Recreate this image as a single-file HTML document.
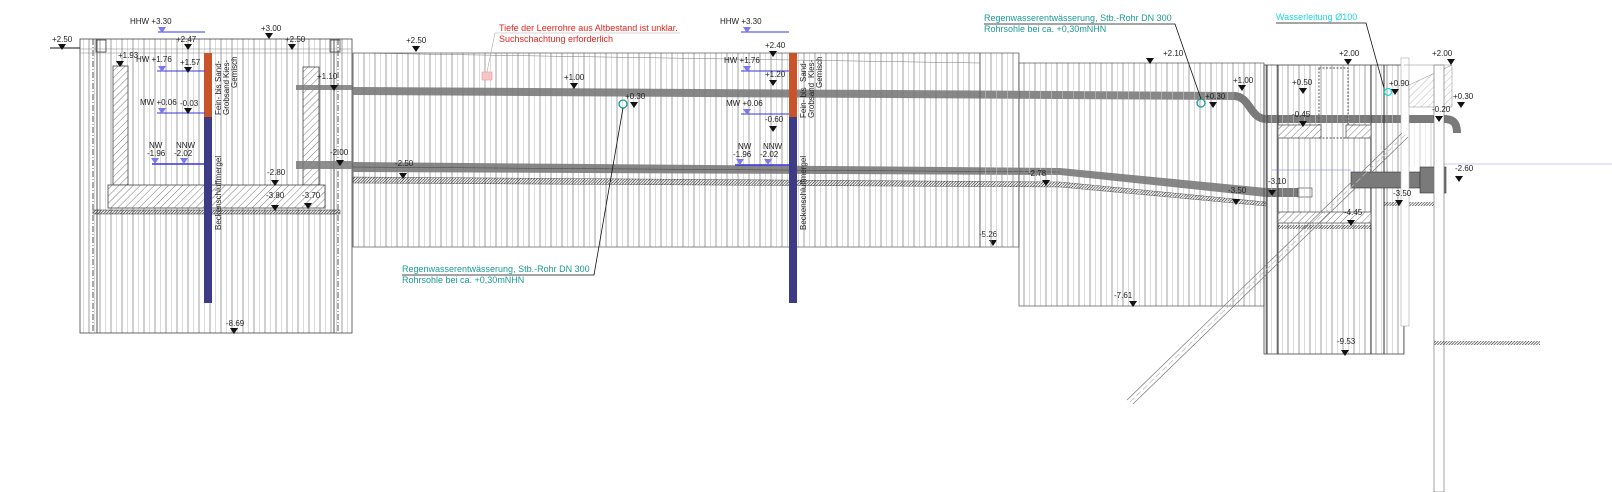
<!DOCTYPE html>
<html><head><meta charset="utf-8"><style>
html,body{margin:0;padding:0;background:#fff}
svg{display:block}
text{font-family:"Liberation Sans",sans-serif;font-size:8px;fill:#222}
.t{fill:#1a9a94;font-size:9px}
.r{fill:#e8231e;font-size:9px}
.c{fill:#22d6e0;font-size:9px}
</style></head><body>
<svg width="1612" height="492" viewBox="0 0 1612 492" xmlns="http://www.w3.org/2000/svg">
<defs>
<pattern id="v" width="11" height="20" patternUnits="userSpaceOnUse">
<line x1="1" y1="0" x2="1" y2="20" stroke="#8a8a8a" stroke-width="0.8"/>
<line x1="6.5" y1="0" x2="6.5" y2="20" stroke="#c4c4c4" stroke-width="0.6"/>
</pattern>
<pattern id="h" width="5" height="5" patternUnits="userSpaceOnUse" patternTransform="rotate(45)">
<line x1="0" y1="0" x2="0" y2="5" stroke="#555" stroke-width="0.8"/>
</pattern>
<pattern id="g" width="2" height="4" patternUnits="userSpaceOnUse" patternTransform="rotate(45)">
<line x1="0" y1="0" x2="0" y2="4" stroke="#222" stroke-width="1.2"/>
</pattern>
<path id="m" d="M-4,0 L4,0 L0,6 Z" fill="#111"/>
<path id="bm" d="M-4,0 L4,0 L0,6 Z" fill="#7a7aee"/>
</defs>

<!-- LEFT PANEL -->
<rect x="80" y="39" width="272" height="294" fill="url(#v)" stroke="#444" stroke-width="0.8"/>
<line x1="93" y1="39" x2="93" y2="333" stroke="#555" stroke-dasharray="6,2,1,2"/>
<line x1="97" y1="39" x2="97" y2="333" stroke="#555"/>
<line x1="338" y1="39" x2="338" y2="333" stroke="#555" stroke-dasharray="6,2,1,2"/>
<line x1="334" y1="39" x2="334" y2="333" stroke="#555"/>
<line x1="80" y1="49" x2="352" y2="49" stroke="#888" stroke-width="0.6"/>
<line x1="80" y1="53" x2="352" y2="53" stroke="#888" stroke-width="0.6"/>
<rect x="113" y="66" width="15" height="119" fill="#fff" stroke="#444" stroke-width="0.8"/>
<rect x="113" y="66" width="15" height="119" fill="url(#h)"/>
<rect x="303" y="67" width="16" height="118" fill="#fff" stroke="#444" stroke-width="0.8"/>
<rect x="303" y="67" width="16" height="118" fill="url(#h)"/>
<rect x="108" y="185" width="217" height="23" fill="#fff" stroke="#444" stroke-width="0.8"/>
<rect x="108" y="185" width="217" height="23" fill="url(#h)"/>
<rect x="93" y="210" width="247" height="4" fill="url(#g)" stroke="#333" stroke-width="0.5"/>
<rect x="296" y="85" width="57" height="5" fill="#7a7a7a" opacity="0.85"/>
<rect x="296" y="161" width="57" height="8" fill="#7a7a7a" opacity="0.85"/>
<rect x="96" y="40" width="10" height="12" fill="none" stroke="#333" stroke-width="0.7"/>
<rect x="330" y="40" width="10" height="12" fill="none" stroke="#333" stroke-width="0.7"/>
<rect x="204" y="53" width="8" height="64" fill="#c9542a"/>
<rect x="204" y="117" width="8" height="186" fill="#3d3a86"/>
<line x1="158" y1="32" x2="205" y2="32" stroke="#3535e0"/>
<line x1="157" y1="71" x2="205" y2="71" stroke="#3535e0"/>
<line x1="157" y1="113" x2="205" y2="113" stroke="#3535e0"/>
<line x1="152" y1="164" x2="205" y2="164" stroke="#3535e0" stroke-width="1.4"/>
<use href="#bm" x="162" y="27"/><use href="#bm" x="162" y="66"/><use href="#bm" x="162" y="108"/>
<use href="#bm" x="155" y="158"/><use href="#bm" x="184" y="158"/>
<line x1="50" y1="48" x2="80" y2="48" stroke="#111"/>
<text x="52" y="42">+2.50</text><use href="#m" x="62" y="44"/>
<text x="130" y="24">HHW +3.30</text>
<text x="136" y="62">HW +1.76</text>
<text x="140" y="105">MW +0.06</text>
<text x="149" y="148">NW</text><text x="147" y="156">-1.96</text>
<text x="176" y="148">NNW</text><text x="174" y="156">-2.02</text>
<text x="176" y="42">+2.47</text><use href="#m" x="188" y="44"/>
<text x="180" y="65">+1.57</text><use href="#m" x="188" y="67"/>
<text x="180" y="106">-0.03</text><use href="#m" x="188" y="108"/>
<text x="118" y="58">+1.93</text><use href="#m" x="120" y="61"/>
<text x="261" y="31">+3.00</text><use href="#m" x="269" y="33"/>
<text x="285" y="42">+2.50</text><use href="#m" x="292" y="44"/>
<text x="317" y="79">+1.10</text><use href="#m" x="334" y="85"/>
<text x="330" y="155">-2.00</text><use href="#m" x="340" y="160"/>
<text x="267" y="175">-2.80</text><use href="#m" x="275" y="180"/>
<text x="266" y="198">-3.80</text><use href="#m" x="275" y="205"/>
<text x="302" y="198">-3.70</text><use href="#m" x="308" y="203"/>
<text x="226" y="326">-8.69</text><use href="#m" x="234" y="328"/>
<text transform="translate(221,52) rotate(-90)" x="-30" y="0" font-size="7">Sand-</text>
<text transform="translate(229,52) rotate(-90)" x="-26" y="0" font-size="7">Kies-</text>
<text transform="translate(237,52) rotate(-90)" x="-36" y="0" font-size="7">Gemisch</text>
<text transform="translate(221,115) rotate(-90)" x="0" y="0" font-size="7">Fein- bis</text>
<text transform="translate(229,115) rotate(-90)" x="0" y="0" font-size="7">Grobsand</text>
<text transform="translate(221,230) rotate(-90)" x="0" y="0" font-size="7">Beckenschluffmergel</text>

<!-- MIDDLE SECTION -->
<rect x="353" y="53" width="627" height="194" fill="url(#v)" stroke="#555" stroke-width="0.7"/>
<line x1="353" y1="53" x2="980" y2="63" stroke="#777" stroke-width="0.5"/>
<polygon points="353,87 1234,92 1234,100 353,95" fill="#7a7a7a" opacity="0.9"/>
<polygon points="353,162 1060,168 1060,175 353,172" fill="#7a7a7a" opacity="0.9"/>
<line x1="353" y1="167" x2="1060" y2="172" stroke="#444" stroke-width="0.5"/>
<polygon points="353,177 1060,182 1266,202 1266,206 1060,187 353,183" fill="url(#g)" stroke="#333" stroke-width="0.4"/>
<rect x="789" y="53" width="8" height="64" fill="#c9542a"/>
<rect x="789" y="117" width="8" height="186" fill="#3d3a86"/>
<line x1="741" y1="32" x2="789" y2="32" stroke="#3535e0"/>
<line x1="741" y1="71" x2="789" y2="71" stroke="#3535e0"/>
<line x1="741" y1="114" x2="789" y2="114" stroke="#3535e0"/>
<line x1="735" y1="165" x2="789" y2="165" stroke="#3535e0" stroke-width="1.4"/>
<use href="#bm" x="747" y="27"/><use href="#bm" x="747" y="66"/><use href="#bm" x="747" y="109"/>
<use href="#bm" x="740" y="159"/><use href="#bm" x="768" y="159"/>
<text x="720" y="24">HHW +3.30</text>
<text x="724" y="63">HW +1.76</text>
<text x="726" y="106">MW +0.06</text>
<text x="738" y="149">NW</text><text x="733" y="157">-1.96</text>
<text x="763" y="149">NNW</text><text x="760" y="157">-2.02</text>
<text x="765" y="48">+2.40</text><use href="#m" x="773" y="51"/>
<text x="765" y="77">+1.20</text><use href="#m" x="773" y="80"/>
<text x="765" y="122">-0.60</text><use href="#m" x="773" y="126"/>
<text transform="translate(806,52) rotate(-90)" x="-30" y="0" font-size="7">Sand-</text>
<text transform="translate(814,52) rotate(-90)" x="-26" y="0" font-size="7">Kies-</text>
<text transform="translate(822,52) rotate(-90)" x="-36" y="0" font-size="7">Gemisch</text>
<text transform="translate(806,118) rotate(-90)" x="0" y="0" font-size="7">Fein- bis</text>
<text transform="translate(814,118) rotate(-90)" x="0" y="0" font-size="7">Grobsand</text>
<text transform="translate(806,230) rotate(-90)" x="0" y="0" font-size="7">Beckenschluffmergel</text>
<text x="406" y="43">+2.50</text><use href="#m" x="416" y="46"/>
<text x="564" y="80">+1.00</text><use href="#m" x="574" y="83"/>
<text x="625" y="99">+0.30</text><use href="#m" x="634" y="102"/>
<text x="395" y="166">-2.50</text><use href="#m" x="403" y="173"/>
<text x="979" y="237">-5.26</text><use href="#m" x="993" y="240"/>
<circle cx="623" cy="104" r="4" fill="none" stroke="#1a9a94" stroke-width="1.3"/>
<polyline points="623,108 594,275 402,275" fill="none" stroke="#111" stroke-width="0.8"/>
<text class="t" x="402" y="272">Regenwasserentwässerung, Stb.-Rohr DN 300</text>
<text class="t" x="402" y="283">Rohrsohle bei ca. +0,30mNHN</text>
<text class="r" x="499" y="31">Tiefe der Leerrohre aus Altbestand ist unklar.</text>
<text class="r" x="499" y="42">Suchschachtung erforderlich</text>
<polyline points="680,33 495,33 487,72" fill="none" stroke="#aaa" stroke-width="0.6"/>
<rect x="482" y="72" width="10" height="8" fill="#f6c6c6" stroke="#e88" stroke-width="0.5"/>

<!-- RIGHT SECTION -->
<rect x="980" y="53" width="39" height="194" fill="url(#v)" stroke="#555" stroke-width="0.7"/>
<rect x="1019" y="63" width="245" height="243" fill="url(#v)" stroke="#555" stroke-width="0.7"/>
<path d="M1234,96 C1250,96 1250,119 1266,119 L1444,119 C1455,119 1457,125 1457,133" fill="none" stroke="#7a7a7a" stroke-width="8"/>
<polygon points="1060,168 1266,188 1266,197 1060,175" fill="#7a7a7a" opacity="0.9"/>
<rect x="1266" y="188" width="32" height="9" fill="#7a7a7a"/>
<rect x="1298" y="188" width="14" height="9" fill="#fff" stroke="#333" stroke-width="0.6"/>
<text x="1028" y="176">-2.78</text><use href="#m" x="1046" y="180"/>
<text x="1163" y="56">+2.10</text><use href="#m" x="1150" y="58"/>
<text x="1233" y="83">+1.00</text><use href="#m" x="1242" y="85"/>
<text x="1205" y="99">+0.30</text><use href="#m" x="1213" y="102"/>
<text x="1228" y="193">-3.50</text><use href="#m" x="1236" y="199"/>
<text x="1114" y="298">-7.61</text><use href="#m" x="1133" y="301"/>
<circle cx="1201" cy="103" r="4" fill="none" stroke="#1a9a94" stroke-width="1.3"/>
<polyline points="1201,99 1175,24 984,24" fill="none" stroke="#111" stroke-width="0.8"/>
<text class="t" x="984" y="21">Regenwasserentwässerung, Stb.-Rohr DN 300</text>
<text class="t" x="984" y="32">Rohrsohle bei ca. +0,30mNHN</text>

<rect x="1264" y="65" width="140" height="289" fill="url(#v)" stroke="#444" stroke-width="0.8"/>
<line x1="1267" y1="65" x2="1267" y2="354" stroke="#333"/>
<line x1="1278" y1="65" x2="1278" y2="354" stroke="#333"/>
<line x1="1371" y1="65" x2="1371" y2="354" stroke="#333"/>
<line x1="1384" y1="65" x2="1384" y2="354" stroke="#333"/>
<rect x="1319" y="68" width="29" height="70" fill="none" stroke="#555" stroke-dasharray="2,1.5"/>
<rect x="1278" y="125" width="43" height="13" fill="#fff" stroke="#444" stroke-width="0.7"/>
<rect x="1278" y="125" width="43" height="13" fill="url(#h)"/>
<rect x="1346" y="125" width="25" height="13" fill="#fff" stroke="#444" stroke-width="0.7"/>
<rect x="1346" y="125" width="25" height="13" fill="url(#h)"/>
<rect x="1278" y="212" width="93" height="11" fill="#fff" stroke="#444" stroke-width="0.7"/>
<rect x="1278" y="212" width="93" height="11" fill="url(#h)"/>
<rect x="1278" y="225" width="93" height="4" fill="url(#g)"/>
<rect x="1384" y="202" width="60" height="4" fill="url(#g)"/>
<line x1="1272" y1="170" x2="1351" y2="170" stroke="#6a6ae8" stroke-width="0.6"/>
<line x1="1441" y1="164" x2="1612" y2="164" stroke="#9a9af0" stroke-width="0.6"/>
<rect x="1351" y="172" width="69" height="16" fill="#7a7a7a" stroke="#333" stroke-width="0.6"/>
<rect x="1420" y="167" width="26" height="26" fill="#7a7a7a" stroke="#333" stroke-width="0.6"/>
<rect x="1401" y="58" width="8" height="268" fill="#fff" stroke="#aaa" stroke-width="0.6"/>
<polygon points="1409,85 1452,65 1452,107 1409,107" fill="#fff" stroke="#888" stroke-width="0.5"/>
<polygon points="1409,85 1452,65 1452,107 1409,107" fill="url(#h)" opacity="0.5"/>
<rect x="1409" y="123" width="30" height="44" fill="url(#v)" opacity="0.5"/>
<rect x="1434" y="65" width="10" height="427" fill="#fff" stroke="#666" stroke-width="0.6"/>
<line x1="1404" y1="65" x2="1452" y2="65" stroke="#888" stroke-width="0.6"/>
<rect x="1434" y="341" width="106" height="4" fill="url(#g)"/>
<g stroke="#777" stroke-width="0.7" fill="none">
<line x1="1127" y1="400" x2="1402" y2="133"/>
<line x1="1133" y1="404" x2="1408" y2="137"/>
<line x1="1130" y1="402" x2="1405" y2="135" stroke-dasharray="6,3" stroke="#bbb"/>
</g>
<text x="1292" y="85">+0.50</text><use href="#m" x="1303" y="88"/>
<text x="1292" y="117">-0.45</text><use href="#m" x="1303" y="121"/>
<text x="1268" y="184">-3.10</text><use href="#m" x="1272" y="190"/>
<text x="1344" y="215">-4.45</text><use href="#m" x="1351" y="220"/>
<text x="1337" y="344">-9.53</text><use href="#m" x="1345" y="350"/>
<text x="1339" y="56">+2.00</text><use href="#m" x="1348" y="59"/>
<text x="1389" y="86">+0.90</text><use href="#m" x="1395" y="89"/>
<text x="1432" y="56">+2.00</text><use href="#m" x="1451" y="59"/>
<text x="1453" y="99">+0.30</text><use href="#m" x="1461" y="102"/>
<text x="1432" y="112">-0.20</text><use href="#m" x="1439" y="116"/>
<text x="1455" y="171">-2.60</text><use href="#m" x="1459" y="176"/>
<text x="1393" y="196">-3.50</text><use href="#m" x="1399" y="200"/>
<circle cx="1388" cy="92" r="3.5" fill="none" stroke="#22d6e0" stroke-width="1.3"/>
<polyline points="1384,88 1366,23 1276,23" fill="none" stroke="#111" stroke-width="0.8"/>
<text class="c" x="1276" y="20">Wasserleitung Ø100</text>
</svg>
</body></html>
